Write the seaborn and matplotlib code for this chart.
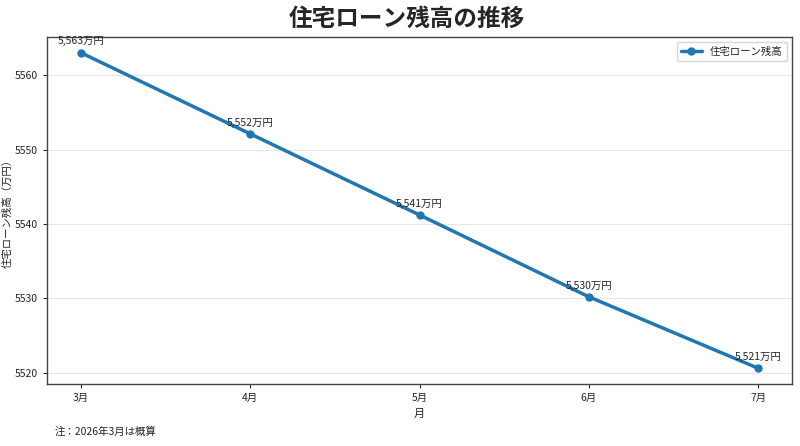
import matplotlib
matplotlib.use("Agg")
import matplotlib.pyplot as plt
import pandas as pd
import seaborn as sns

months = ["3月", "4月", "5月", "6月", "7月"]
balance = [5563.0, 5552.1, 5541.2, 5530.2, 5520.6]

sns.set_style("white")
plt.rcParams["font.family"] = ["Noto Sans CJK JP", "DejaVu Sans"]

df = pd.DataFrame({"月": months, "残高": balance})

fig, ax = plt.subplots(figsize=(8, 4.46), dpi=100)
sns.lineplot(data=df, x="月", y="残高", marker="o", markersize=6,
             linewidth=2.5, color="#2077b2", markeredgewidth=0,
             label="住宅ローン残高", ax=ax, sort=False)

for i, v in enumerate(balance):
    ax.annotate(f"{v:,.0f}万円", (i, v), textcoords="offset points",
                xytext=(0, 6), ha="center", fontsize=7.5)

fig.suptitle("住宅ローン残高の推移", fontsize=17, fontweight="bold",
             x=0.509, y=0.985)
ax.set_xlabel("月", fontsize=8)
ax.set_ylabel("住宅ローン残高（万円）", fontsize=7.5, labelpad=2)
ax.tick_params(labelsize=7.5, length=3)
ax.tick_params(axis="y", left=True)
ax.tick_params(axis="x", bottom=True)
ax.yaxis.grid(True, color="#e6e6e6", linewidth=0.8)
ax.set_axisbelow(True)
for s in ax.spines.values():
    s.set_color("#444444")
    s.set_linewidth(1.0)
ax.legend(loc="upper right", fontsize=7.5, frameon=True)

fig.text(0.068, 0.025, "注：2026年3月は概算", fontsize=7.5)
fig.subplots_adjust(left=0.059, right=0.99, top=0.917, bottom=0.139)
fig.savefig("out.png", dpi=100)
